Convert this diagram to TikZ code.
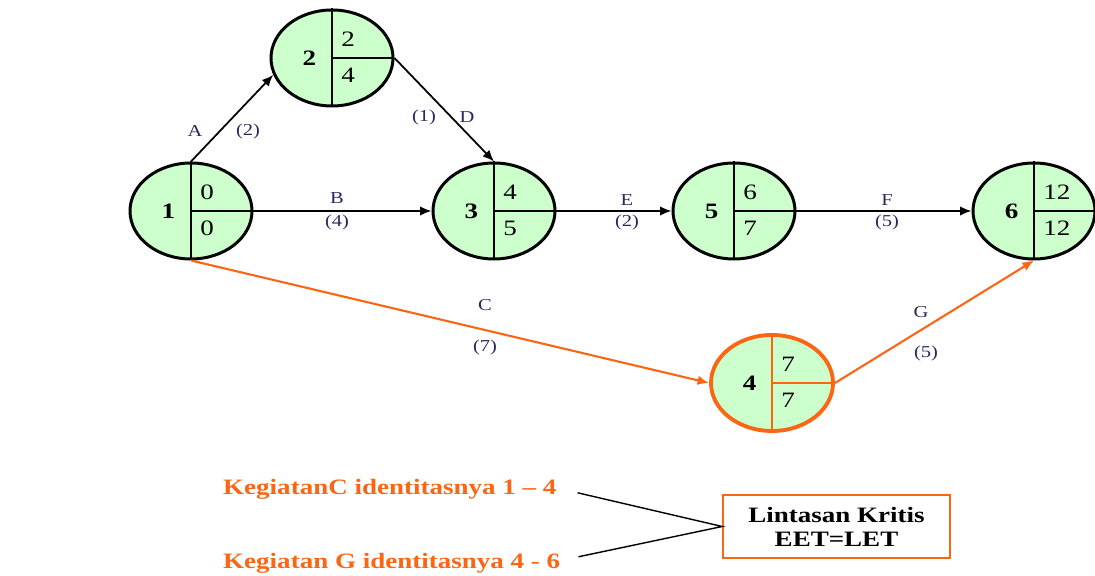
\documentclass[tikz,border=0pt]{standalone}
\usepackage{fontspec}
\setmainfont{Liberation Serif}[FakeStretch=1.23]
\usetikzlibrary{shapes.geometric,arrows.meta}
\definecolor{grn}{RGB}{204,255,204}
\definecolor{org}{RGB}{250,102,20}
\definecolor{nvy}{RGB}{40,40,95}
\tikzset{
  evt/.style={ellipse,draw,line width=1.7pt,fill=grn,minimum width=2.44cm,minimum height=1.92cm,inner sep=0pt},
  num/.style={font=\fontsize{12.5}{13}\selectfont,inner sep=0pt},
  act/.style={font=\fontsize{9.5}{10}\selectfont,text=nvy,inner sep=1pt},
  arr/.style={-{Latex[length=2.3mm,width=1.9mm]},line width=1pt},
  note/.style={font=\fontsize{12.5}{13.7}\selectfont\bfseries,text=org},
}

\begin{document}
\begin{tikzpicture}
\useasboundingbox (0,0) rectangle (21.9,11.52);
% events
\node[evt] (n1) at (3.82,7.30) {};
\node[evt] (n2) at (6.64,10.36) {};
\node[evt] (n3) at (9.88,7.30) {};
\node[evt] (n5) at (14.68,7.30) {};
\node[evt] (n6) at (20.68,7.30) {};
\node[evt,draw=org,line width=2.2pt] (n4) at (15.44,3.86) {};
% split lines, EET (top) and LET (bottom)
\foreach \n/\m/\t/\b/\c in {n1/1/0/0/black,n2/2/2/4/black,n3/3/4/5/black,n5/5/6/7/black,n6/6/12/12/black,n4/4/7/7/org} {
  \draw[line width=1.3pt,\c] (\n.north) -- (\n.south) (\n.center) -- (\n.east);
  \node[num,font=\fontsize{12.5}{13}\selectfont\bfseries] (\n-m) at ([xshift=-0.45cm]\n.center) {\m};
  \node[num,anchor=west] (\n-t) at ([xshift=0.18cm,yshift=0.37cm]\n.center) {\t};
  \node[num,anchor=west] (\n-b) at ([xshift=0.18cm,yshift=-0.35cm]\n.center) {\b};
}
% activities
\draw[arr] (n1.north) -- (n2.196);
\draw[arr] (n2.east) -- (n3.north);
\draw[arr] (n1.east) -- (n3.west);
\draw[arr] (n3.east) -- (n5.west);
\draw[arr] (n5.east) -- (n6.west);
\draw[arr,org,line width=1.2pt] (n1.south) -- (n4.west);
\draw[arr,org,line width=1.2pt] (n4.east) -- (n6.south);
\node[act] (la) at (3.90,8.90) {A};
\node[act] (da) at (4.96,8.90) {(2)};
\node[act] (dd) at (8.48,9.18) {(1)};
\node[act] (ld) at (9.34,9.18) {D};
\node[act] (lb) at (6.74,7.56) {B};
\node[act] (db) at (6.74,7.08) {(4)};
\node[act] (le) at (12.54,7.52) {E};
\node[act] (de) at (12.54,7.08) {(2)};
\node[act] (lf) at (17.74,7.52) {F};
\node[act] (df) at (17.74,7.08) {(5)};
\node[act] (lc) at (9.70,5.42) {C};
\node[act] (dc) at (9.70,4.58) {(7)};
\node[act] (lg) at (18.42,5.28) {G};
\node[act] (dg) at (18.52,4.46) {(5)};
% critical path note
\node[note,anchor=base west] (k1) at (4.34,1.62) {KegiatanC identitasnya 1 – 4};
\node[note,anchor=base west] (k2) at (4.34,0.14) {Kegiatan G identitasnya 4 - 6};
\node[note,text=black,draw=org,line width=0.9pt,minimum width=4.54cm,minimum height=1.26cm,align=center] (lk) at (16.73,0.99) {Lintasan Kritis\\EET=LET};
\draw[line width=0.8pt] ([xshift=0.3cm,yshift=-0.06cm]k1.east) -- (lk.west) -- ([xshift=0.24cm,yshift=0.14cm]k2.east);
\end{tikzpicture}
\end{document}
